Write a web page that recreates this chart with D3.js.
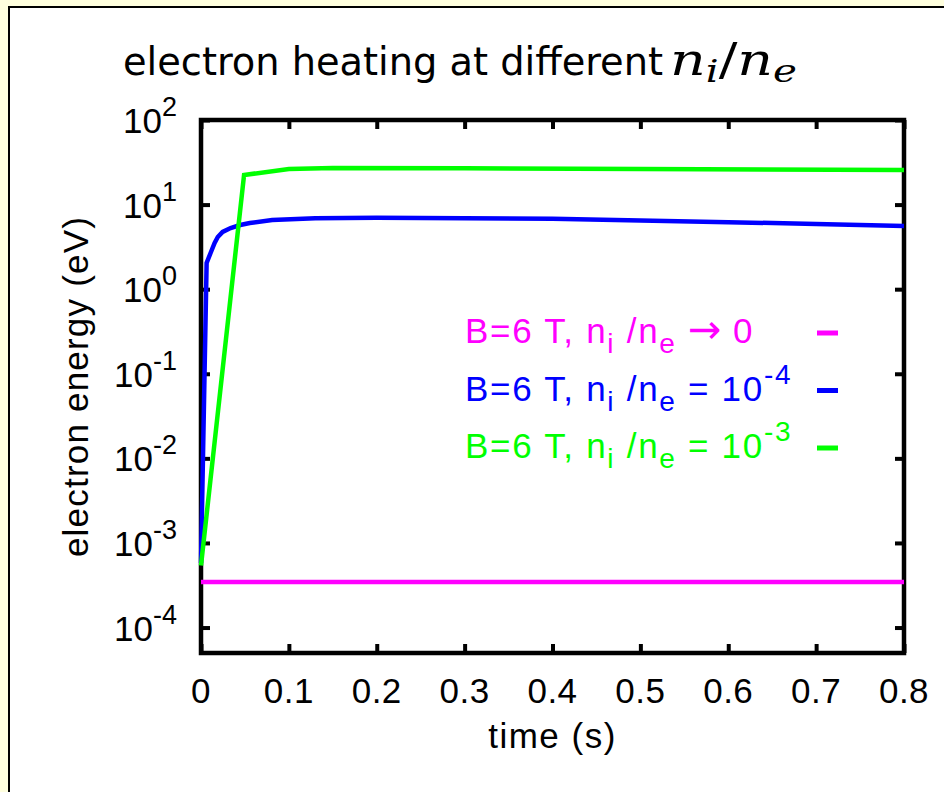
<!DOCTYPE html>
<html>
<head>
<meta charset="utf-8">
<script src="https://cdn.jsdelivr.net/npm/d3@7"></script>
<style>
  html, body { margin: 0; padding: 0; background: #ffffde; }
  svg { display: block; }
  text { font-family: "Liberation Sans", Arial, sans-serif; }
</style>
</head>
<body>
<svg id="chart" width="944" height="792"></svg>
<script>
// ---- data ----
const timeTicks = [0, 0.1, 0.2, 0.3, 0.4, 0.5, 0.6, 0.7, 0.8];
const energyExponents = [-4, -3, -2, -1, 0, 1, 2];

// B=6 T, ni/ne -> 0
const magentaTime = [0, 0.8];
const magentaEnergy = [3.45e-4, 3.45e-4];

// B=6 T, ni/ne = 1e-4
const blueTime = [0, 0.0064, 0.0109, 0.0155, 0.0191, 0.0246, 0.0337, 0.0446, 0.0555, 0.081, 0.13, 0.2, 0.3, 0.4, 0.5, 0.6, 0.7, 0.8];
const blueEnergy = [5.8e-4, 2.04, 2.68, 3.52, 4.14, 4.75, 5.29, 5.74, 6.06, 6.58, 6.9, 7.0, 6.9, 6.8, 6.5, 6.2, 5.9, 5.6];

// B=6 T, ni/ne = 1e-3
const greenTime = [0, 0.049, 0.1, 0.15, 0.3, 0.5, 0.8];
const greenEnergy = [5.4e-4, 22.4, 26.3, 27.0, 26.8, 26.3, 25.6];

const seriesColors = ["#ff00ff", "#0000ff", "#00ff00"];
const legendTexts = [
  [["B=6 T, n"], ["i", "sub"], [" /n"], ["e", "sub"], [" "], ["\u2192", "sym"], [" 0"]],
  [["B=6 T, n"], ["i", "sub"], [" /n"], ["e", "sub"], [" = 10"], ["-4", "sup"]],
  [["B=6 T, n"], ["i", "sub"], [" /n"], ["e", "sub"], [" = 10"], ["-3", "sup"]]
];

// ---- layout ----
const svg = d3.select("#chart");
const plotLeft = 201, plotRight = 904, plotTop = 120, plotBottom = 653;

// white panel with a thin black frame
svg.append("rect")
  .attr("x", 9).attr("y", 7)
  .attr("width", 1000).attr("height", 1000)
  .attr("fill", "#ffffff")
  .attr("stroke", "#000").attr("stroke-width", 2);

const x = d3.scaleLinear().domain([0, 0.8]).range([plotLeft, plotRight]);
const y = d3.scaleLog().domain([5e-5, 100]).range([plotBottom, plotTop]);

// title: sans text + math part
svg.append("text")
  .attr("x", 123).attr("y", 75)
  .attr("font-size", 39)
  .attr("textLength", 540)
  .attr("lengthAdjust", "spacingAndGlyphs")
  .style("font-family", "'Liberation Sans Narrow', 'DejaVu Sans Condensed', 'Open Sans', sans-serif")
  .text("electron heating at different");

const mathFont = "'DejaVu Serif', 'Liberation Serif', serif";
const math = svg.append("text")
  .attr("x", 670).attr("y", 75)
  .attr("textLength", 127)
  .attr("lengthAdjust", "spacingAndGlyphs")
  .style("font-family", mathFont)
  .style("font-style", "italic");
math.append("tspan").text("n").attr("font-size", 44);
math.append("tspan").text("i").attr("font-size", 32).attr("dy", 7);
math.append("tspan").text("/").style("font-style", "normal").attr("font-size", 44).attr("dy", -7);
math.append("tspan").text("n").attr("font-size", 44);
math.append("tspan").text("e").attr("font-size", 32).attr("dy", 7);

// axes: inward ticks on all four sides
const tickLen = 9;
const energyTickValues = energyExponents.map(e => Math.pow(10, e));

function styleAxis(g) {
  g.select(".domain").remove();
  g.selectAll(".tick line").attr("stroke", "#000").attr("stroke-width", 4);
  g.selectAll(".tick text").remove();
}

svg.append("g").attr("transform", `translate(0,${plotBottom})`)
  .call(d3.axisBottom(x).tickValues(timeTicks).tickSize(-tickLen))
  .call(styleAxis);
svg.append("g").attr("transform", `translate(0,${plotTop})`)
  .call(d3.axisTop(x).tickValues(timeTicks).tickSize(-tickLen))
  .call(styleAxis);
svg.append("g").attr("transform", `translate(${plotLeft},0)`)
  .call(d3.axisLeft(y).tickValues(energyTickValues).tickSize(-tickLen))
  .call(styleAxis);
svg.append("g").attr("transform", `translate(${plotRight},0)`)
  .call(d3.axisRight(y).tickValues(energyTickValues).tickSize(-tickLen))
  .call(styleAxis);

// border
svg.append("rect")
  .attr("x", plotLeft).attr("y", plotTop)
  .attr("width", plotRight - plotLeft).attr("height", plotBottom - plotTop)
  .attr("fill", "none")
  .attr("stroke", "#000").attr("stroke-width", 4.5);

// x tick labels
svg.append("g").selectAll("text")
  .data(timeTicks)
  .join("text")
  .attr("x", d => x(d))
  .attr("y", plotBottom + 50)
  .attr("text-anchor", "middle")
  .attr("font-size", 35)
  .style("letter-spacing", "0.5px")
  .text(d => d === 0 ? "0" : d3.format(".1f")(d));

// y tick labels 10^n
const yLabels = svg.append("g").selectAll("text")
  .data(energyExponents)
  .join("text")
  .attr("x", plotLeft - 24)
  .attr("y", d => y(Math.pow(10, d)) + 13)
  .attr("text-anchor", "end")
  .attr("font-size", 35);
yLabels.append("tspan").text("10");
yLabels.append("tspan").attr("dy", -17).attr("font-size", 27).text(d => d < 0 ? "-" + (-d) : String(d));

// axis titles
svg.append("text")
  .attr("x", (plotLeft + plotRight) / 2).attr("y", 748)
  .attr("text-anchor", "middle")
  .attr("font-size", 35)
  .style("letter-spacing", "1.5px")
  .text("time (s)");
svg.append("text")
  .attr("transform", `translate(88,${(plotTop + plotBottom) / 2}) rotate(-90)`)
  .attr("text-anchor", "middle")
  .attr("font-size", 35)
  .style("letter-spacing", "1.2px")
  .text("electron energy (eV)");

// curves
const line = d3.line().x(d => x(d[0])).y(d => y(d[1]));
const series = [
  d3.zip(magentaTime, magentaEnergy),
  d3.zip(blueTime, blueEnergy),
  d3.zip(greenTime, greenEnergy)
];
svg.append("g").selectAll("path")
  .data(series)
  .join("path")
  .attr("d", line)
  .attr("fill", "none")
  .attr("stroke", (d, i) => seriesColors[i])
  .attr("stroke-width", 4.5)
  .attr("stroke-linejoin", "miter");

// legend
const legendX = 465, legendY0 = 343, legendStep = 57.5;
const legend = svg.append("g").selectAll("g")
  .data(legendTexts)
  .join("g")
  .attr("transform", (d, i) => `translate(0,${legendY0 + i * legendStep})`);

legend.append("line")
  .attr("x1", 817).attr("x2", 838)
  .attr("y1", -10).attr("y2", -10)
  .attr("stroke", (d, i) => seriesColors[i])
  .attr("stroke-width", 5);

legend.append("text")
  .attr("x", legendX).attr("y", 0)
  .attr("font-size", 35)
  .style("letter-spacing", "1.7px")
  .attr("fill", (d, i) => seriesColors[i])
  .each(function(parts) {
    const t = d3.select(this);
    let shift = 0;
    parts.forEach(([txt, kind]) => {
      const target = kind === "sub" ? 10 : kind === "sup" ? -17 : 0;
      const span = t.append("tspan").attr("dy", target - shift).text(txt);
      if (kind === "sub" || kind === "sup") span.attr("font-size", 28);
      if (kind === "sym") span.attr("font-size", 40).style("font-family", "'DejaVu Sans', sans-serif").style("letter-spacing", "0px");
      shift = target;
    });
  });
</script>
</body>
</html>
